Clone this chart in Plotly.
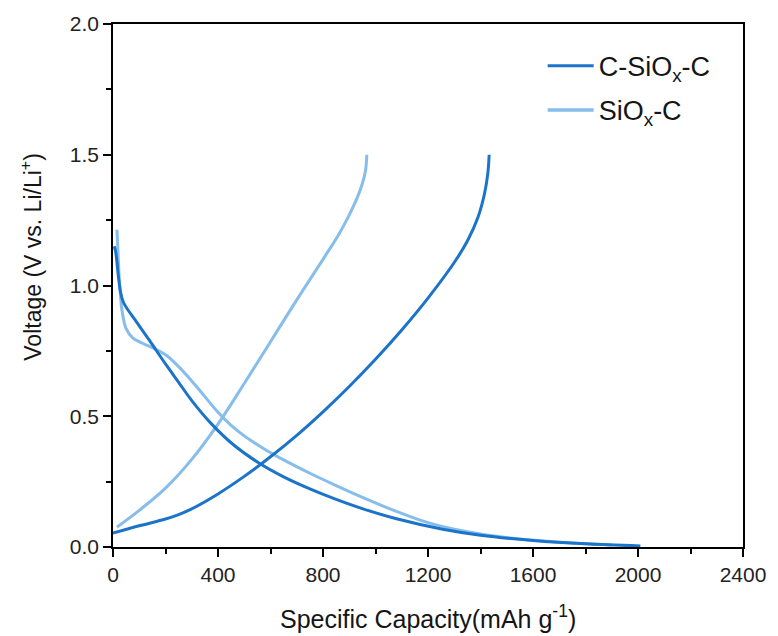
import plotly.graph_objects as go

# Galvanostatic first-cycle profiles (capacity in mAh/g, voltage in V vs Li/Li+)
csc_dis_cap = [5, 10, 15, 20, 28, 40, 90, 139, 200, 250, 300, 376, 460, 553, 650, 750, 850, 955,
               1080, 1256, 1400, 1600, 1800, 2009]
csc_dis_v = [1.15, 1.13, 1.09, 1.04, 0.98, 0.935, 0.86, 0.79, 0.70, 0.63, 0.56, 0.47, 0.39, 0.323,
             0.268, 0.222, 0.182, 0.145, 0.108, 0.068, 0.045, 0.025, 0.012, 0.004]
csc_chg_cap = [0, 100, 200, 250, 300, 400, 500, 600, 700, 800, 900, 1000, 1100, 1200, 1300, 1350,
               1390, 1415, 1428, 1433]
csc_chg_v = [0.053, 0.081, 0.107, 0.124, 0.146, 0.203, 0.270, 0.345, 0.427, 0.517, 0.614, 0.718,
             0.83, 0.952, 1.088, 1.17, 1.26, 1.35, 1.43, 1.50]

sc_dis_cap = [15, 18, 22, 27, 35, 50, 75, 110, 150, 200, 250, 300, 350, 400, 450, 500, 579, 650,
              750, 850, 955, 1080, 1200, 1350, 1505, 1700, 1900]
sc_dis_v = [1.213, 1.15, 1.06, 0.98, 0.90, 0.835, 0.80, 0.78, 0.762, 0.735, 0.69, 0.635, 0.575,
            0.515, 0.465, 0.425, 0.373, 0.333, 0.282, 0.235, 0.188, 0.136, 0.093, 0.058, 0.035,
            0.018, 0.008]
sc_chg_cap = [15, 100, 200, 300, 400, 500, 600, 700, 800, 860, 900, 930, 950, 962, 967]
sc_chg_v = [0.076, 0.14, 0.225, 0.335, 0.47, 0.625, 0.785, 0.945, 1.10, 1.195, 1.27, 1.335, 1.39,
            1.44, 1.50]

x_ticks = [0, 400, 800, 1200, 1600, 2000, 2400]
y_ticks = [0.0, 0.5, 1.0, 1.5, 2.0]

DARK = "#1b74c9"
LIGHT = "#86bdeb"
FONT = "Liberation Sans, Arial, sans-serif"
INK = "#151515"

fig = go.Figure()

def add_curve(cap, v, color, name, group, show):
    fig.add_trace(go.Scatter(
        x=cap, y=v, mode="lines", name=name, legendgroup=group,
        showlegend=show, line=dict(color=color, width=3, shape="spline", smoothing=1.0),
    ))

# light sample first so the dark curves sit on top
add_curve(sc_dis_cap, sc_dis_v, LIGHT, "SiO<sub>x</sub>-C", "b", False)
add_curve(sc_chg_cap, sc_chg_v, LIGHT, "SiO<sub>x</sub>-C", "b", False)
add_curve(csc_dis_cap, csc_dis_v, DARK, "C-SiO<sub>x</sub>-C", "a", True)
add_curve(csc_chg_cap, csc_chg_v, DARK, "C-SiO<sub>x</sub>-C", "a", False)
# legend entry for the light sample, listed after the dark one
fig.add_trace(go.Scatter(x=[None], y=[None], mode="lines", name="SiO<sub>x</sub>-C",
                         legendgroup="b", showlegend=True,
                         line=dict(color=LIGHT, width=3.5)))
fig.data[2].update(legendrank=1)
fig.data[4].update(legendrank=2)

axis_common = dict(
    showline=True, linecolor="black", linewidth=1.5, mirror=True,
    ticks="outside", ticklen=8, tickwidth=1.5, tickcolor="black",
    showgrid=False, zeroline=False,
    tickfont=dict(family=FONT, size=21, color="#222"),
)

fig.update_layout(
    width=778, height=636,
    margin=dict(l=113, r=27, t=21, b=89),
    plot_bgcolor="white", paper_bgcolor="white",
    font=dict(family=FONT, color=INK),
    legend=dict(x=0.682, y=0.966, xanchor="left", yanchor="top",
                font=dict(family=FONT, size=27, color=INK),
                bgcolor="rgba(0,0,0,0)", traceorder="grouped", tracegroupgap=6,
                itemwidth=46),
    xaxis=dict(range=[0, 2400], tickvals=x_ticks,
               minor=dict(ticks="outside", ticklen=5, tickwidth=1.5, tickcolor="black", dtick=200),
               **axis_common),
    yaxis=dict(range=[0, 2.0], tickvals=y_ticks, tickformat=".1f",
               minor=dict(ticks="outside", ticklen=5, tickwidth=1.5, tickcolor="black", dtick=0.25),
               **axis_common),
    annotations=[
        dict(text="Voltage (V vs. Li/Li<sup>+</sup>)", textangle=-90,
             xref="paper", yref="paper", x=(30 - 113) / 638, y=(547 - 255) / 526,
             xanchor="center", yanchor="middle", showarrow=False,
             font=dict(family=FONT, size=23, color=INK)),
        dict(text="Specific Capacity(mAh g<sup>-1</sup>)",
             xref="paper", yref="paper", x=0.5, y=(547 - 617) / 526,
             xanchor="center", yanchor="middle", showarrow=False,
             font=dict(family=FONT, size=25, color=INK)),
    ],
)

fig.write_html("out.html")
